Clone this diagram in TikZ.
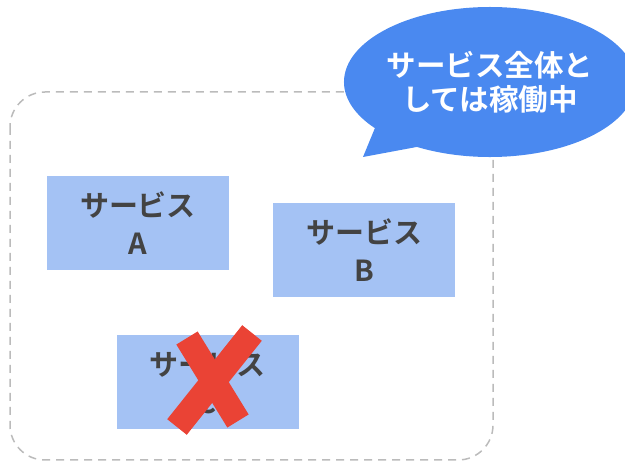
\documentclass[tikz,border=0pt]{standalone}
\usepackage{fontspec}
\newfontfamily\cjk{Noto Sans CJK JP}[BoldFont={Noto Sans CJK JP Bold}]
\usepackage{tikz}
\usetikzlibrary{shapes.callouts}

\definecolor{svcfill}{HTML}{A4C2F4}
\definecolor{svctext}{HTML}{434343}
\definecolor{bubblefill}{HTML}{4A89F0}
\definecolor{crossred}{HTML}{EA4335}
\definecolor{framegray}{HTML}{BBBBBB}

\begin{document}
\begin{tikzpicture}[x=1pt,y=-1pt,
	svc/.style={fill=svcfill,minimum width=182pt,minimum height=94pt,inner sep=0pt,align=center,text=svctext,font=\cjk\bfseries\fontsize{29}{38}\selectfont},
	bubble/.style={ellipse callout,fill=bubblefill,minimum width=262pt,minimum height=150pt,inner sep=0pt,callout pointer arc=22,align=center,text=white,font=\cjk\bfseries\fontsize{29.5}{34}\selectfont},
	cross/.style={draw=crossred,line width=25pt}]
	\useasboundingbox (0,0) rectangle (625,462);
	% dashed frame
	\draw[framegray,line width=1.5pt,dash pattern=on 8pt off 6pt,rounded corners=35pt] (10,92) rectangle (493,460);
	% services
	\node[svc] (svcA) at (138,223) {サービス\\A};
	\node[svc] (svcB) at (364,250) {サービス\\B};
	\node[svc] (svcC) at (207.5,382.5) {サービス\\C};
	% the failed one
	\coordinate (xa1) at (187,338);
	\coordinate (xa2) at (238,421);
	\coordinate (xb1) at (252,333);
	\coordinate (xb2) at (177,427);
	\draw[cross] (xa1) -- (xa2);
	\draw[cross] (xb1) -- (xb2);
	% speech bubble
	\node[bubble,callout absolute pointer={(363,157)}] (msg) at (490,82) {サービス全体と\\しては稼働中};
\end{tikzpicture}
\end{document}
